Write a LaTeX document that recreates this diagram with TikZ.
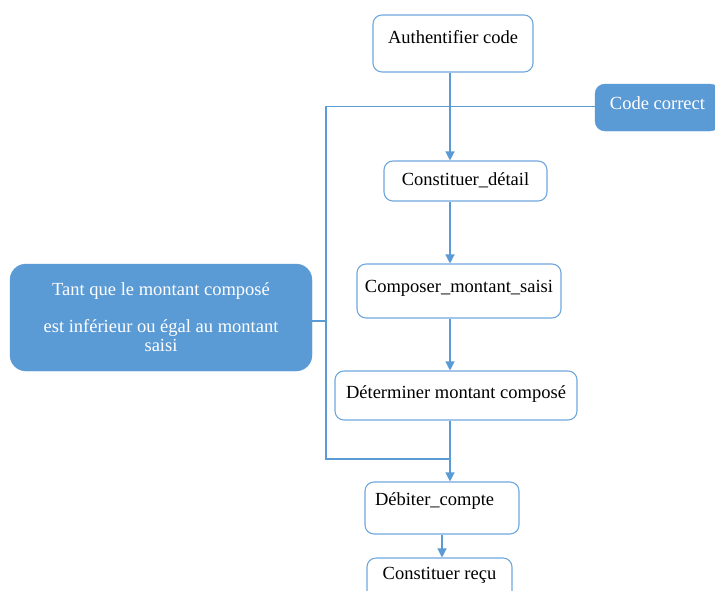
\documentclass[tikz,border=0pt]{standalone}
\usepackage{fontspec}
\setmainfont{Liberation Serif}
\usetikzlibrary{arrows.meta}
\definecolor{bleu}{RGB}{91,155,213}
\definecolor{bord}{RGB}{112,168,222}

\begin{document}
\begin{tikzpicture}[x=1pt,y=-1pt]
    \tikzstyle{every node}=[font=\fontsize{18.5}{19}\selectfont,inner sep=0pt,align=center]
    \tikzstyle{etape}=[draw=bord,line width=1.1pt,rounded corners=9pt,fill=white,text height=13pt]
    \tikzstyle{cond}=[draw=bleu,fill=bleu,text=white]
    \tikzstyle{lien}=[draw=bleu,line width=1.3pt]
    \tikzstyle{fleche}=[lien,-{Triangle[width=9pt,length=9pt]}]
    \clip (0,0) rectangle (715,590);
    \fill[white] (0,0) rectangle (715,590);

    \node[etape,minimum width=160pt,minimum height=57pt,text depth=14pt] at (453,43.5) (auth) {Authentifier code};
    \node[cond,rounded corners=10pt,minimum width=125pt,minimum height=47pt,text depth=9pt] at (657.5,107.5) (code) {Code correct};
    \node[etape,minimum width=163pt,minimum height=40pt,text depth=5pt] at (465.5,181) (detail) {Constituer\_détail};
    \node[etape,minimum width=204pt,minimum height=54pt,text depth=11pt] at (459,291) (compose) {Composer\_montant\_saisi};
    \node[etape,minimum width=242pt,minimum height=49pt,text depth=8pt] at (456,395.5) (determine) {Déterminer montant composé};
    \node[etape,minimum width=154pt,minimum height=52pt,text depth=19pt,text width=134pt,align=left] at (442,508) (debit) {Débiter\_compte};
    \node[etape,minimum width=145pt,minimum height=60pt,text depth=31pt] at (439.5,588) (recu) {Constituer reçu};
    \node[cond,rounded corners=16pt,minimum width=302pt,minimum height=107pt] at (161,317.5) (tantque)
        {Tant que le montant composé\\[18pt] est inférieur ou égal au montant\\ saisi};

    \coordinate (axe) at (450,0);
    \coordinate (retour) at (326,459);
    \coordinate (entree) at (326,106.5);

    \draw[fleche] (axe |- auth.south) -- (axe |- detail.north);
    \draw[fleche] (axe |- detail.south) -- (axe |- compose.north);
    \draw[fleche] (axe |- compose.south) -- (axe |- determine.north);
    \draw[fleche] (axe |- determine.south) -- (axe |- debit.north);
    \draw[fleche] (debit.south) -- (debit.south |- recu.north);

    % boucle
    \draw[lien] (entree -| code.west) -- (entree) -- (retour) -- (retour -| axe);
    \draw[lien] ([yshift=-3.5pt]tantque.east) -- ([yshift=-3.5pt]tantque.east -| retour);
\end{tikzpicture}
\end{document}
